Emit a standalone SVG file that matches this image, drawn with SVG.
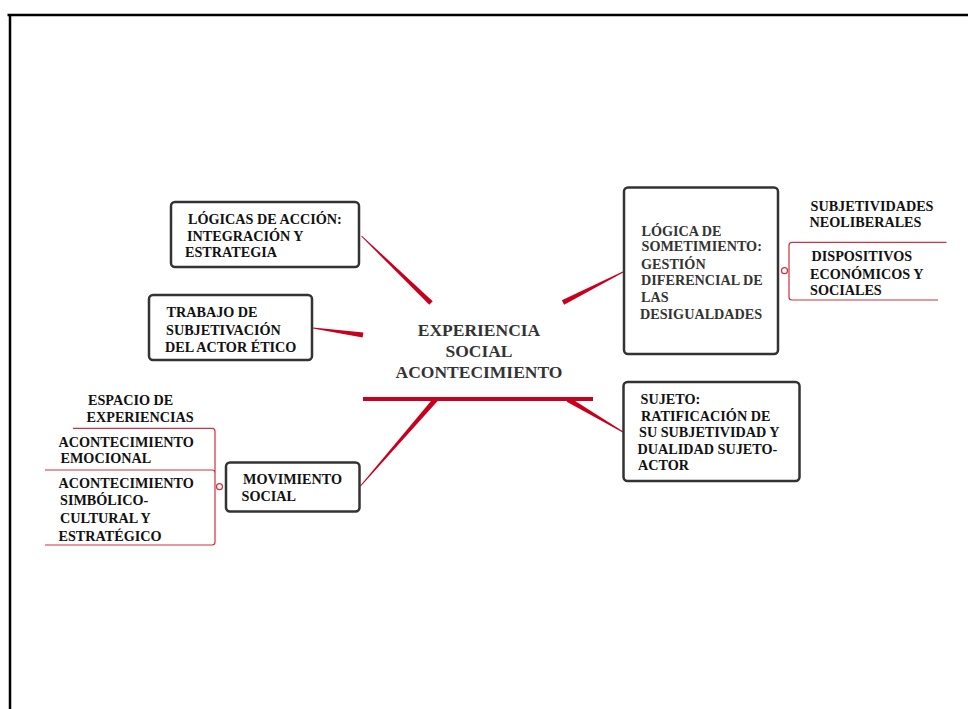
<svg xmlns="http://www.w3.org/2000/svg" width="968" height="709" viewBox="0 0 968 709">
<style>
.box{fill:#fff;stroke:#333;stroke-width:2.5}
.t{font-family:"Liberation Serif","Times New Roman",serif;font-weight:bold;font-size:14.2px;fill:#111}
.g{fill:#333}
.c{font-family:"Liberation Serif","Times New Roman",serif;font-weight:bold;font-size:17.5px;fill:#333;text-anchor:middle}
.con{fill:#c8001e}
.br{fill:none;stroke:#d0303f;stroke-width:1.2}
.knob{fill:#fff;stroke:#d0303f;stroke-width:1.2}
</style>
<rect x="0" y="0" width="968" height="709" fill="#fff"/>
<g id="frame" stroke="#000" stroke-width="2.5">
<line x1="7.5" y1="15" x2="968" y2="15"/>
<line x1="10" y1="14" x2="10" y2="709"/>
</g>
<g id="connectors">
<polygon class="con" points="361.85,235.64 432.73,301.2 429.27,304.8 361.15,236.36"/>
<polygon class="con" points="313.07,327.5 363.35,332.52 362.65,337.48 312.93,328.5"/>
<polygon class="con" points="622.77,271.55 561.87,300.27 564.13,304.73 623.23,272.45"/>
<polygon class="con" points="434.11,397.36 437.89,400.64 360.88,486.33 360.12,485.67"/>
<polygon class="con" points="569.27,397.35 623.25,431.57 622.75,432.43 566.73,401.65"/>
<rect class="con" x="363" y="397" width="230" height="4"/>
<path class="br" d="M946.5,242.3 H792 Q789,242.3 789,245.3 V297 Q789,300 792,300 H938"/>
<circle class="knob" cx="784.5" cy="270.7" r="3"/>
<path class="br" d="M73,428.3 H212 Q215,428.3 215,431.3 V542 Q215,545 212,545 H45 M45,470 H212 Q215,470 215,473"/>
<circle class="knob" cx="219.5" cy="486.7" r="3"/>
</g>
<g id="center">
<text class="c" x="479" y="336">EXPERIENCIA</text>
<text class="c" x="479" y="357">SOCIAL</text>
<text class="c" x="479" y="378">ACONTECIMIENTO</text>
</g>
<g id="logicas-accion">
<rect class="box" x="171" y="202" width="188" height="65" rx="4"/>
<text class="t" x="188" y="224">LÓGICAS DE ACCIÓN:</text>
<text class="t" x="187" y="241">INTEGRACIÓN Y</text>
<text class="t" x="185" y="257">ESTRATEGIA</text>
</g>
<g id="trabajo">
<rect class="box" x="149" y="295" width="163" height="65" rx="4"/>
<text class="t" x="166.5" y="317">TRABAJO DE</text>
<text class="t" x="166" y="335">SUBJETIVACIÓN</text>
<text class="t" x="165" y="352">DEL ACTOR ÉTICO</text>
</g>
<g id="sometimiento">
<rect class="box" x="624" y="187.5" width="154" height="166.5" rx="4"/>
<text class="t g" x="641.5" y="236">LÓGICA DE</text>
<text class="t g" x="641.5" y="251">SOMETIMIENTO:</text>
<text class="t g" x="641" y="269">GESTIÓN</text>
<text class="t g" x="641" y="285">DIFERENCIAL DE</text>
<text class="t g" x="641" y="301.5">LAS</text>
<text class="t g" x="640" y="318.5">DESIGUALDADES</text>
</g>
<g id="subjetividades">
<text class="t" x="810.5" y="211">SUBJETIVIDADES</text>
<text class="t" x="809.5" y="227">NEOLIBERALES</text>
</g>
<g id="dispositivos">
<text class="t" x="811.5" y="261">DISPOSITIVOS</text>
<text class="t" x="810" y="279">ECONÓMICOS Y</text>
<text class="t" x="810" y="295">SOCIALES</text>
</g>
<g id="sujeto">
<rect class="box" x="623.5" y="382" width="176" height="99" rx="4"/>
<text class="t" x="640.5" y="404">SUJETO:</text>
<text class="t" x="641" y="421">RATIFICACIÓN DE</text>
<text class="t" x="639" y="437">SU SUBJETIVIDAD Y</text>
<text class="t" x="637.5" y="454">DUALIDAD SUJETO-</text>
<text class="t" x="638" y="470">ACTOR</text>
</g>
<g id="movimiento">
<rect class="box" x="226" y="462.5" width="133.5" height="49" rx="4"/>
<text class="t" x="243" y="484">MOVIMIENTO</text>
<text class="t" x="241.5" y="501">SOCIAL</text>
</g>
<g id="espacio">
<text class="t" x="88" y="405">ESPACIO DE</text>
<text class="t" x="86.5" y="422">EXPERIENCIAS</text>
</g>
<g id="emocional">
<text class="t" x="58.5" y="447">ACONTECIMIENTO</text>
<text class="t" x="60.5" y="463">EMOCIONAL</text>
</g>
<g id="simbolico">
<text class="t" x="58.5" y="488">ACONTECIMIENTO</text>
<text class="t" x="60" y="505">SIMBÓLICO-</text>
<text class="t" x="60" y="523">CULTURAL Y</text>
<text class="t" x="58.5" y="541">ESTRATÉGICO</text>
</g>
</svg>
